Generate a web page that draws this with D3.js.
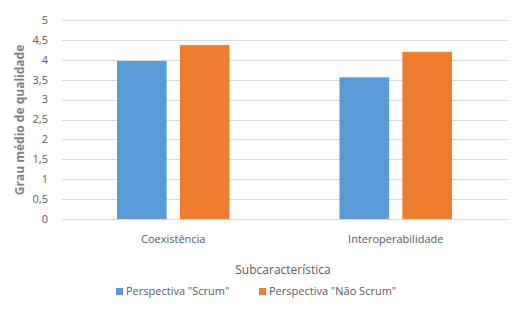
<!DOCTYPE html>
<html>
<head>
<meta charset="utf-8">
<script src="https://cdn.jsdelivr.net/npm/d3@7"></script>
<style>
  html, body { margin: 0; padding: 0; background: #fff; }
  svg { display: block; font-family: "Open Sans", "Noto Sans", sans-serif; }
</style>
</head>
<body>
<svg id="chart" width="515" height="323"></svg>
<script>
// Subcharacteristics and the average quality grade per perspective
const categories = ["Coexistência", "Interoperabilidade"];
const seriesNames = ["Perspectiva \"Scrum\"", "Perspectiva \"Não Scrum\""];
const scrumValues = [3.97, 3.56];
const naoScrumValues = [4.37, 4.2];
const yTicks = [0, 0.5, 1, 1.5, 2, 2.5, 3, 3.5, 4, 4.5, 5];
const yTickLabels = ["0", "0,5", "1", "1,5", "2", "2,5", "3", "3,5", "4", "4,5", "5"];
const colors = ["#5B9BD5", "#ED7D31"];

const svg = d3.select("#chart");
const margin = { left: 62, right: 8, top: 20, bottom: 104 };
const W = 515, H = 323;
const plotW = W - margin.left - margin.right;
const plotH = H - margin.top - margin.bottom;

const g = svg.append("g").attr("transform", `translate(${margin.left},${margin.top})`);

const y = d3.scaleLinear().domain([0, 5]).range([plotH, 0]);
const x0 = d3.scaleBand().domain(categories).range([0, plotW]).padding(0);
const groupPad = 55;
const x1 = d3.scaleBand().domain(seriesNames)
  .range([groupPad, x0.bandwidth() - groupPad]).paddingInner(0.21);

// Horizontal gridlines
g.append("g").selectAll("line").data(yTicks).join("line")
  .attr("x1", 0).attr("x2", plotW)
  .attr("y1", d => Math.round(y(d)) + 0.5).attr("y2", d => Math.round(y(d)) + 0.5)
  .attr("stroke", "#d9d9d9").attr("stroke-width", 1);

// Y tick labels
g.append("g").selectAll("text").data(yTicks).join("text")
  .attr("x", -14).attr("y", d => y(d)).attr("dy", "0.35em")
  .attr("text-anchor", "end").attr("font-size", 11).attr("fill", "#595959")
  .text((d, i) => yTickLabels[i]);

// Bars
const rows = categories.map((c, i) => ({ cat: c, vals: [scrumValues[i], naoScrumValues[i]] }));
const groups = g.append("g").selectAll("g").data(rows).join("g")
  .attr("transform", d => `translate(${x0(d.cat)},0)`);
groups.selectAll("rect").data(d => d.vals.map((v, j) => ({ name: seriesNames[j], v, j })))
  .join("rect")
  .attr("x", d => x1(d.name)).attr("width", x1.bandwidth())
  .attr("y", d => y(d.v)).attr("height", d => plotH - y(d.v))
  .attr("fill", d => colors[d.j]);

// Category labels
g.append("g").selectAll("text").data(categories).join("text")
  .attr("x", d => x0(d) + x0.bandwidth() / 2).attr("y", plotH + 24)
  .attr("text-anchor", "middle").attr("font-size", 11).attr("fill", "#595959")
  .text(d => d);

// Axis titles
svg.append("text").attr("x", 283).attr("y", 274)
  .attr("text-anchor", "middle").attr("font-size", 12).attr("fill", "#595959")
  .text("Subcaracterística");
svg.append("text").attr("transform", "translate(24,120) rotate(-90)")
  .attr("text-anchor", "middle").attr("font-size", 12).attr("font-weight", "bold")
  .attr("fill", "#7f7f7f").text("Grau médio de qualidade");

// Legend
const legend = svg.append("g").attr("transform", "translate(116,291)");
const legX = [0, 143];
seriesNames.forEach((s, i) => {
  const lg = legend.append("g").attr("transform", `translate(${legX[i]},0)`);
  lg.append("rect").attr("x", 0).attr("y", -3).attr("width", 7).attr("height", 7).attr("fill", colors[i]);
  lg.append("text").attr("x", 10).attr("y", 0).attr("dy", "0.35em")
    .attr("font-size", 11).attr("fill", "#595959").text(s);
});
</script>
</body>
</html>
